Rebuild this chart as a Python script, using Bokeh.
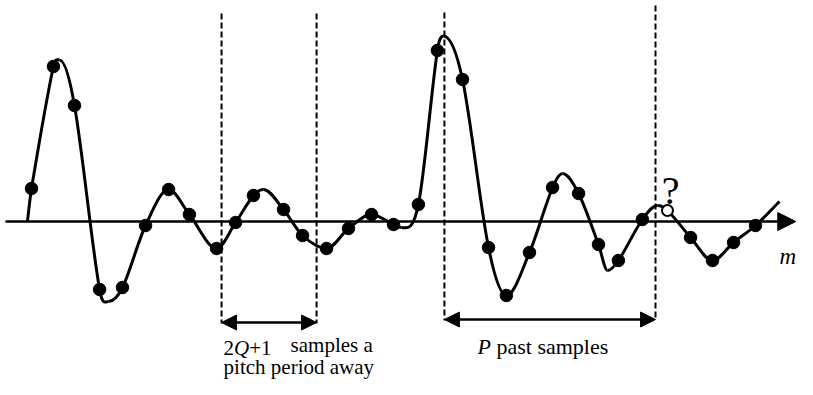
import numpy as np
from bokeh.plotting import figure
from bokeh.models import Range1d, Arrow, NormalHead, Label
from bokeh.embed import file_html
from bokeh.resources import INLINE

# ---- data ----
# sample positions (in sample-index units m) and amplitudes
sample_m = [0.00, 0.97, 1.90, 3.01, 4.02, 5.04, 6.06, 6.98, 8.18, 9.02, 9.81,
            11.14, 11.98, 13.04, 14.01, 15.03, 16.00, 17.10, 17.94, 19.05, 20.20,
            20.99, 22.01, 23.03, 24.18, 25.06, 25.94, 27.00, 28.11, 29.13, 30.10,
            31.03, 32.00]
sample_v = [0.33, 1.55, 1.16, -0.68, -0.66, -0.04, 0.32, 0.07, -0.27, -0.01, 0.26,
            0.12, -0.14, -0.27, -0.07, 0.07, -0.03, 0.17, 1.71, 1.42, -0.26,
            -0.74, -0.31, 0.34, 0.28, -0.23, -0.39, 0.02, 0.11, -0.16, -0.39,
            -0.21, -0.04]
unknown_index = 28   # the sample marked "?"

# extra points (ends and turning points)
trace_m = [-0.18, 1.24, 3.40, 10.25, 16.35, 18.21, 23.47, 25.46, 27.67, 33.06]
trace_v = [0.00, 1.615, -0.80, 0.32, -0.06, 1.855, 0.48, -0.49, 0.16, 0.20]
# positions where the waveform turns (flat tangent)
turning_m = [1.24, 3.40, 6.06, 8.18, 10.25, 13.04, 15.03, 16.35, 18.21, 20.99,
             23.47, 25.46, 27.67, 30.10]

# window marks
window_m = [8.40, 12.60, 18.25, 27.58]
window_top = [2.08, 2.08, 2.09, 2.16]
window_bottom = [-1.02, -1.02, -0.99, -0.99]
span_q = (8.40, 12.60, -1.01)
span_p = (18.25, 27.58, -0.98)

# ---- figure ----
p = figure(width=797, height=379, output_backend="svg", toolbar_location=None,
           x_axis_type=None, y_axis_type=None, min_border=0,
           x_range=Range1d(-1.370, 33.856), y_range=Range1d(-1.58, 2.21))
p.grid.visible = False
p.outline_line_color = None
p.background_fill_color = "white"

# horizontal m axis with arrow
p.add_layout(Arrow(end=NormalHead(size=18, fill_color="black", line_color="black", line_width=1),
                   x_start=-1.15, y_start=0, x_end=33.78, y_end=0,
                   line_width=2.5, line_color="black"))

# dashed window lines
p.segment(x0=window_m, y0=window_top, x1=window_m, y1=window_bottom,
          line_dash="6 3", line_width=2, line_color="black")

# double arrows
for (a, b, y) in (span_q, span_p):
    p.add_layout(Arrow(start=NormalHead(size=15, fill_color="black", line_color="black", line_width=1),
                       end=NormalHead(size=15, fill_color="black", line_color="black", line_width=1),
                       x_start=a, y_start=y, x_end=b, y_end=y,
                       line_width=2.5, line_color="black"))

# smooth waveform through samples + trace points (cubic Hermite as Bezier)
xs = np.array(sample_m + trace_m)
ys = np.array(sample_v + trace_v)
order = np.argsort(xs)
xs, ys = xs[order], ys[order]
n = len(xs)
d = np.zeros(n)
for i in range(n):
    if any(abs(xs[i] - t) < 1e-6 for t in turning_m):
        d[i] = 0.0
    elif i == 0:
        d[i] = (ys[1] - ys[0]) / (xs[1] - xs[0])
    elif i == n - 1:
        d[i] = (ys[-1] - ys[-2]) / (xs[-1] - xs[-2])
    else:
        d[i] = (ys[i + 1] - ys[i - 1]) / (xs[i + 1] - xs[i - 1])
h = xs[1:] - xs[:-1]
p.bezier(x0=xs[:-1], y0=ys[:-1], x1=xs[1:], y1=ys[1:],
         cx0=xs[:-1] + h / 3, cy0=ys[:-1] + d[:-1] * h / 3,
         cx1=xs[1:] - h / 3, cy1=ys[1:] - d[1:] * h / 3,
         line_width=3, line_color="black")

# samples
known = [i for i in range(len(sample_m)) if i != unknown_index]
p.scatter([sample_m[i] for i in known], [sample_v[i] for i in known],
          size=12.5, marker="circle", fill_color="black", line_color="black")
p.scatter([sample_m[unknown_index]], [sample_v[unknown_index]], size=11,
          marker="circle", fill_color="white", line_color="black", line_width=2)

# labels
serif = "Liberation Serif"
def lab(x, y, t, size, style="normal", align="left"):
    p.add_layout(Label(x=x, y=y, text=t, text_font=serif, text_font_size=f"{size}px",
                       text_font_style=style, text_align=align,
                       text_baseline="alphabetic", text_color="black"))

lab(28.25, 0.31, "?", 40, align="center")
lab(33.80, -0.35, "m", 23, style="italic", align="right")
lab(8.49, -1.26, "2", 21)
lab(8.95, -1.26, "Q", 21, style="italic")
lab(9.62, -1.26, "+1", 21)
lab(11.45, -1.23, "samples a", 21)
lab(8.49, -1.45, "pitch period away", 21)
lab(19.71, -1.25, "P", 22, style="italic")
lab(20.55, -1.25, "past samples", 22)

open("out.html", "w").write(file_html(p, INLINE))
